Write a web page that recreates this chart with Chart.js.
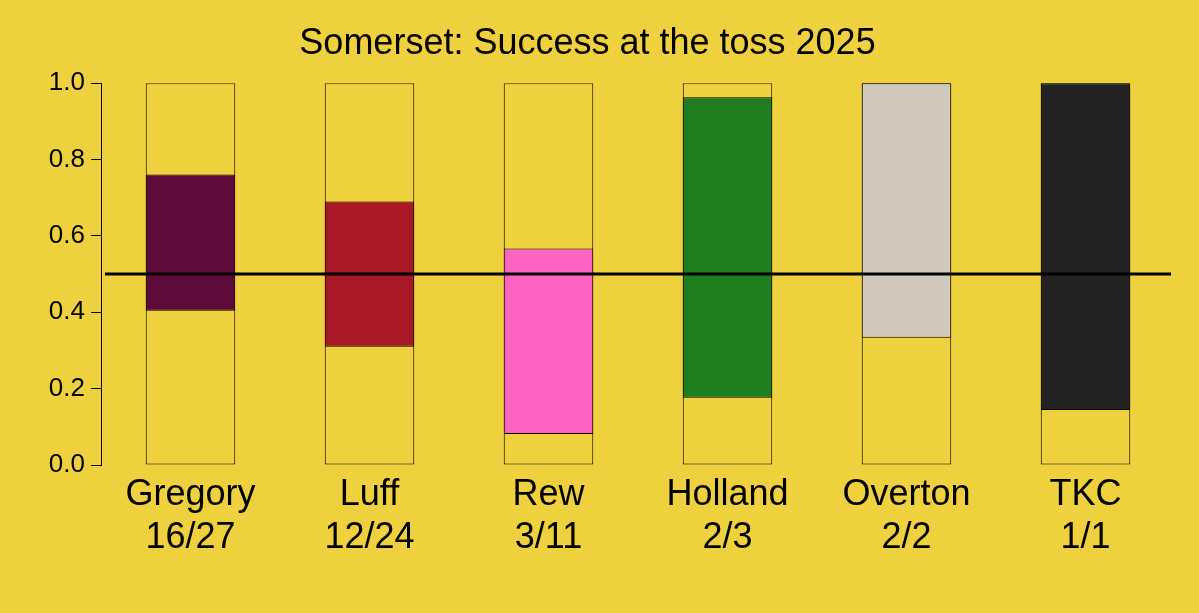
<!DOCTYPE html>
<html>
<head>
<meta charset="utf-8">
<script src="https://cdn.jsdelivr.net/npm/chart.js@4"></script>
<style>
  html, body { margin: 0; padding: 0; background: #efd03e; }
  #wrap { width: 1199px; height: 613px; }
</style>
</head>
<body>
<div id="wrap"><canvas id="toss"></canvas></div>
<script>
// captains, tosses won / played, and the interval drawn as the coloured bar
const captains = ['Gregory', 'Luff', 'Rew', 'Holland', 'Overton', 'TKC'];
const records = ['16/27', '12/24', '3/11', '2/3', '2/2', '1/1'];
const lowerBound = [0.404, 0.310, 0.081, 0.176, 0.333, 0.144];
const upperBound = [0.761, 0.690, 0.567, 0.963, 1.0, 1.0];
const barColours = ['#5e0b3b', '#a91827', '#ff63c0', '#1e7d1e', '#d1c9be', '#222222'];
const yTicks = [0, 0.2, 0.4, 0.6, 0.8, 1.0];
const evenLine = 0.5;

const BG = '#efd03e';
const FONT = "'Liberation Sans', Arial, sans-serif";

// horizontal line at 0.5 drawn across the plot
const evenLinePlugin = {
    id: 'evenLine',
    afterDatasetsDraw(chart) {
        const { ctx, chartArea, scales } = chart;
        const y = scales.y.getPixelForValue(evenLine);
        ctx.save();
        ctx.strokeStyle = '#000';
        ctx.lineWidth = 3;
        ctx.beginPath();
        ctx.moveTo(chartArea.left + 4, y);
        ctx.lineTo(chartArea.right - 4, y);
        ctx.stroke();
        ctx.restore();
    }
};

new Chart(document.getElementById('toss').getContext('2d'), {
    type: 'bar',
    data: {
        labels: captains.map((c, i) => [c, records[i]]),
        datasets: [
            {
                data: lowerBound.map((l, i) => [l, upperBound[i]]),
                backgroundColor: barColours,
                borderColor: '#000', borderWidth: 1, borderSkipped: false,
                barPercentage: 0.5, categoryPercentage: 1, grouped: false, order: 1
            },
            {
                data: captains.map(() => [0, 1]),
                backgroundColor: BG,
                borderColor: '#000', borderWidth: 1, borderSkipped: false,
                barPercentage: 0.5, categoryPercentage: 1, grouped: false, order: 2
            }
        ]
    },
    options: {
        responsive: true, maintainAspectRatio: false, animation: false,
        layout: { padding: { left: 0, right: 24, top: 0, bottom: 0 } },
        plugins: {
            legend: { display: false },
            tooltip: { enabled: false },
            title: {
                display: true, text: 'Somerset: Success at the toss 2025',
                color: '#000', font: { family: FONT, size: 36, weight: 'normal' },
                padding: { top: 22, bottom: 18 }
            }
        },
        scales: {
            x: {
                grid: { display: false, drawTicks: false },
                border: { display: false },
                ticks: { color: '#000', font: { family: FONT, size: 36 }, padding: 8, maxRotation: 0 },
                afterFit(s) { s.height = 148; }
            },
            y: {
                min: 0, max: 1,
                afterBuildTicks(s) { s.ticks = yTicks.map(v => ({ value: v })); },
                grid: { drawOnChartArea: false, color: '#000', tickLength: 10 },
                border: { display: true, color: '#000', width: 1 },
                ticks: { color: '#000', font: { family: FONT, size: 26 }, padding: 6,
                         callback: v => v.toFixed(1) },
                afterFit(s) { s.width = 101; }
            }
        }
    },
    plugins: [evenLinePlugin]
});
</script>
</body>
</html>
